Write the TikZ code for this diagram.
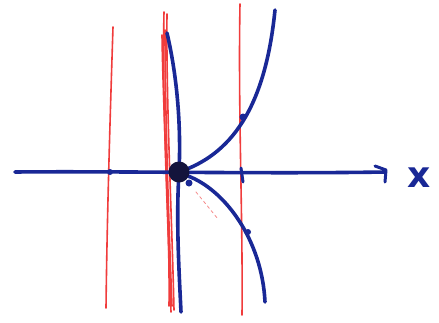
\documentclass[tikz,border=0pt]{standalone}
\usepackage{fontspec}
\setmainfont{DejaVu Sans}
\definecolor{penblue}{RGB}{25,40,150}
\definecolor{penred}{RGB}{240,60,60}
\definecolor{blob}{RGB}{20,20,60}
\begin{document}
\begin{tikzpicture}[x=1pt,y=-1pt,
  redline/.style={draw=penred,line width=1.6pt,line cap=round},
  blueline/.style={draw=penblue,line width=3.6pt,line cap=round,line join=round},
  lbl/.style={text=penblue,font=\bfseries\fontsize{36}{36}\selectfont,inner sep=0pt}]
\useasboundingbox[fill=white] (0,0) rectangle (439,322);
% red vertical lines
\draw[redline] (113,27) .. controls (110,120) and (107,220) .. (106,308);
\draw[redline] (164,12) .. controls (162,100) and (168,220) .. (171,312);
\draw[redline] (167,14) .. controls (166,100) and (172,220) .. (174,310);
\draw[redline] (162,35) .. controls (163,110) and (170,230) .. (169,306);
\draw[redline] (165,30) .. controls (165,110) and (169,230) .. (172,306);
\draw[redline] (240,4) .. controls (238,110) and (243,220) .. (242,315);
\draw[redline,dashed,line width=0.8pt,opacity=0.6] (196,192) -- (218,219);
% axis
\coordinate (a0) at (15,172);
\coordinate (a1) at (385,172);
\draw[blueline] (a0) .. controls (120,171) and (260,174) .. (a1);
\draw[blueline,line width=3pt] (375,166) -- (386,170) -- (385,182);
\node[lbl] (xl) at (419,178) {x};
% curves
\coordinate (o) at (179,172);
\draw[blueline] (167,33) .. controls (178,80) and (181,130) .. (o) .. controls (176,220) and (179,270) .. (181,312);
\draw[blueline] (o) .. controls (230,155) and (265,110) .. (275,10);
\draw[blueline] (188,176) .. controls (225,190) and (262,240) .. (265,302);
\fill[blob] (o) circle (10.5);
% small marks
\fill[penblue] (110,172) circle (3);
\fill[penblue] (243,117) circle (3.5);
\fill[penblue] (248,232) circle (3);
\draw[blueline,line width=3pt] (241,168) -- (243,182);
\fill[penblue] (189,183) circle (3.5);
\end{tikzpicture}
\end{document}
